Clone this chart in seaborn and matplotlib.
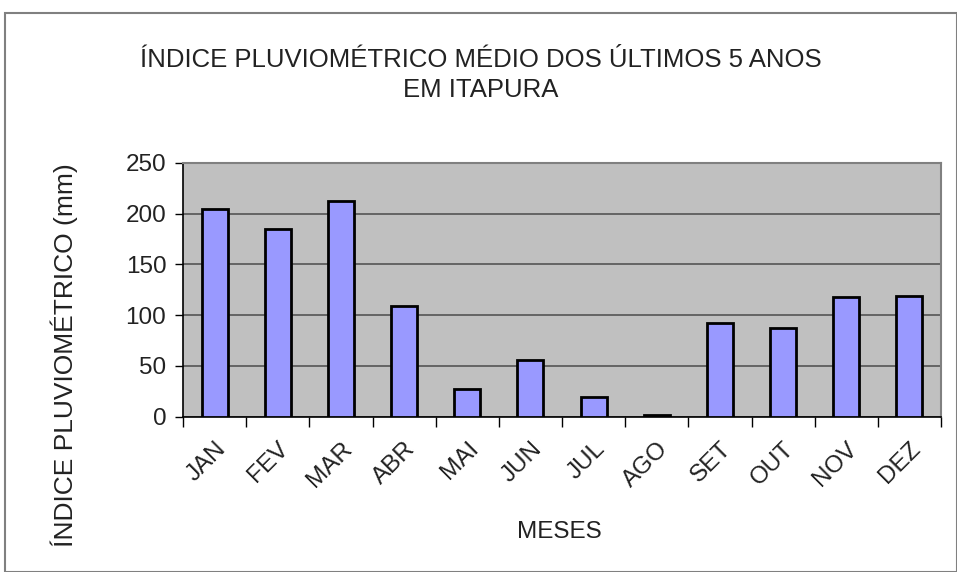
import numpy as np
import pandas as pd
import matplotlib
matplotlib.use("Agg")
import matplotlib.pyplot as plt
import seaborn as sns
from matplotlib.patches import Rectangle

months = ["JAN", "FEV", "MAR", "ABR", "MAI", "JUN", "JUL", "AGO", "SET", "OUT", "NOV", "DEZ"]
rain_mm = [204, 185, 212, 109, 27, 56, 19.5, 1.5, 92, 87, 118, 119]
y_ticks = [0, 50, 100, 150, 200, 250]

sns.set_theme(style="white")
plt.rcParams['font.family'] = ['Liberation Sans', 'DejaVu Sans']

W, H = 957, 572
fig = plt.figure(figsize=(W / 100, H / 100), dpi=100)
fig.patch.set_facecolor("white")

# plot area in pixels
x0, x1 = 183, 941
ytop, ybot = 162.7, 416.7
ax = fig.add_axes([x0 / W, 1 - ybot / H, (x1 - x0) / W, (ybot - ytop) / H])

df = pd.DataFrame({"mes": months, "mm": rain_mm})
sns.barplot(data=df, x="mes", y="mm", ax=ax, color="#9999FF", saturation=1,
            width=0.41, edgecolor="black", linewidth=2, zorder=3)

ax.set_facecolor("#C0C0C0")
ax.set_xlim(-0.5, len(months) - 0.5)
ax.set_ylim(0, 250)
ax.set_yticks(y_ticks)
ax.yaxis.grid(True, color="#555555", linewidth=1.2, zorder=1)
ax.set_axisbelow(True)
for b in ax.patches:
    b.set_zorder(3)

# spines
for s in ["top", "right"]:
    ax.spines[s].set_color("#808080")
    ax.spines[s].set_linewidth(1.5)
for s in ["left", "bottom"]:
    ax.spines[s].set_color("black")
    ax.spines[s].set_linewidth(1.2)

txt_color = "#222222"
fs = 17.5

# ticks: labels at centers, marks at boundaries
ax.set_xticks(range(len(months)))
ax.set_xticklabels(months, rotation=45, ha="right", rotation_mode="anchor", fontsize=fs, color=txt_color)
ax.tick_params(axis="x", which="major", length=0, pad=15)
ax.set_xticks(np.arange(-0.5, len(months)), minor=True)
ax.tick_params(axis="x", which="minor", length=7, width=1, color="black", direction="out", bottom=True)
ax.tick_params(axis="y", which="major", length=6, width=1, color="black", direction="out",
               left=True, labelsize=fs, labelcolor=txt_color, pad=6)

ax.set_xlabel("MESES", fontsize=fs, color=txt_color)
ax.xaxis.label.set_va("center")
ax.xaxis.set_label_coords(0.497, -0.455)
ax.set_ylabel("ÍNDICE PLUVIOMÉTRICO (mm)", fontsize=19, color=txt_color)
ax.yaxis.label.set_va("center")
ax.yaxis.set_label_coords(-0.157, 0.243)

fig.text(481 / W, 1 - 75 / H, "ÍNDICE PLUVIOMÉTRICO MÉDIO DOS ÚLTIMOS 5 ANOS\nEM ITAPURA",
         ha="center", va="center", fontsize=18.5, linespacing=1.3, color=txt_color)

# outer chart border
fig.patches.append(Rectangle((5 / W, 0), (W - 5) / W, 1 - 13 / H, transform=fig.transFigure,
                             fill=False, edgecolor="#808080", linewidth=1.5))

fig.savefig("out.png", dpi=100)
